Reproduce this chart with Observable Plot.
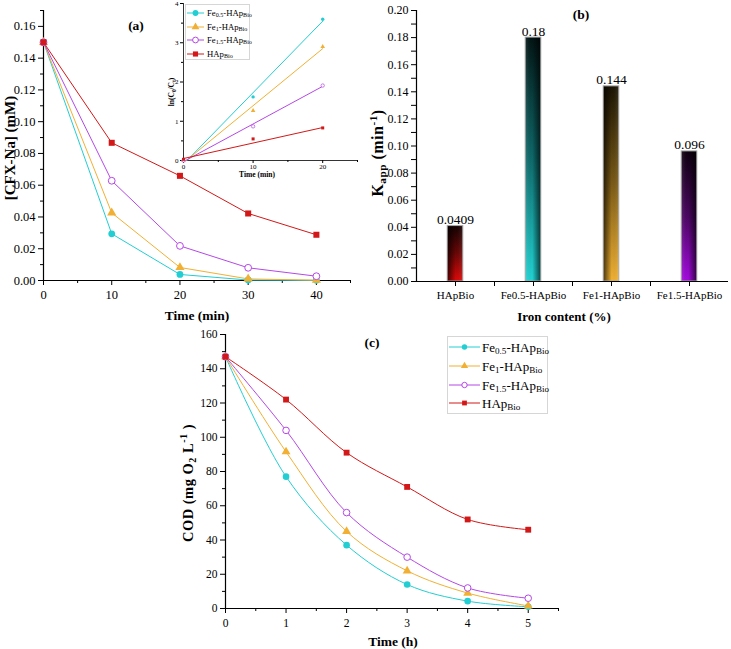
<!DOCTYPE html>
<html><head><meta charset="utf-8">
<script src="https://cdn.jsdelivr.net/npm/d3@7"></script>
<script src="https://cdn.jsdelivr.net/npm/@observablehq/plot@0.6"></script>
<style>
body{margin:0;background:#fff;}
#fig{position:relative;width:731px;height:649px;font-family:"Liberation Serif","Times New Roman",serif;color:#000;overflow:hidden;background:#fff;}
#fig svg, #fig svg g, #fig svg text{font-family:"Liberation Serif","Times New Roman",serif !important;}
.lbl{position:absolute;white-space:nowrap;line-height:1;}
.legend{position:absolute;border:1px solid #d6d6d6;background:#fff;box-sizing:border-box;}
.legend .txt{position:absolute;white-space:nowrap;line-height:1;transform:translateY(-50%);}
sub{font-size:70%;vertical-align:-0.3em;line-height:0;}
sup{font-size:70%;vertical-align:0.55em;line-height:0;}
</style></head>
<body><div id="fig"></div>
<script>
// ---------- data ----------
const seriesNames = ["Fe0.5-HApBio","Fe1-HApBio","Fe1.5-HApBio","HApBio"];
const seriesHtml = ["Fe<sub>0.5</sub>-HAp<sub>Bio</sub>","Fe<sub>1</sub>-HAp<sub>Bio</sub>","Fe<sub>1.5</sub>-HAp<sub>Bio</sub>","HAp<sub>Bio</sub>"];

// (a) CFX-Na concentration vs time
const timeMin = [0,10,20,30,40];
const cfxFe05 = [0.150,0.0294,0.0038,0.0003,0.0001];
const cfxFe1  = [0.150,0.0426,0.0082,0.0010,0.0002];
const cfxFe15 = [0.150,0.0628,0.0218,0.0080,0.0027];
const cfxHAp  = [0.150,0.0867,0.0659,0.0422,0.0288];

// (a) inset: ln(C0/Ct) vs time, with fitted lines
const insetTime = [0,10,20];
const lnFe05 = [0.00,1.62,3.60];
const lnFe1  = [0.00,1.27,2.90];
const lnFe15 = [0.00,0.87,1.91];
const lnHAp  = [0.03,0.55,0.83];
const fitX0 = [0.5,0.4,0.3,0];
const fitY0 = [0,0,0,0.05];
const fitX1 = [20,20,20,20];
const fitY1 = [3.55,2.85,1.89,0.84];

// (b) apparent rate constants
const kCategories = ["HApBio","Fe0.5-HApBio","Fe1-HApBio","Fe1.5-HApBio"];
const kValues = [0.0409,0.18,0.144,0.096];

// (c) COD vs time
const timeH = [0,1,2,3,4,5];
const codFe05 = [147,77,37,14,4.3,1];
const codFe1  = [147,91.5,45,22,9,1.5];
const codFe15 = [147,104,56,30,12,6];
const codHAp  = [147,122,91,71,52,46];

// tick values
const xTicksA = [0,10,20,30,40], xMinorA = [5,15,25,35,45];
const yTicksA = [0,0.02,0.04,0.06,0.08,0.10,0.12,0.14,0.16], yMinorA = [0.01,0.03,0.05,0.07,0.09,0.11,0.13,0.15,0.17];
const xTicksI = [0,10,20], xMinorI = [5,15,25];
const yTicksI = [0,1,2,3,4], yMinorI = [0.5,1.5,2.5,3.5];
const yTicksB = [0,0.02,0.04,0.06,0.08,0.10,0.12,0.14,0.16,0.18,0.20], yMinorB = [0.01,0.03,0.05,0.07,0.09,0.11,0.13,0.15,0.17,0.19];
const xTicksC = [0,1,2,3,4,5], xMinorC = [0.5,1.5,2.5,3.5,4.5,5.5];
const yTicksC = [0,20,40,60,80,100,120,140,160], yMinorC = [10,30,50,70,90,110,130,150];

// ---------- styles ----------
const colors = ["#22ced2","#f1b033","#b548e6","#d21818"];
const symbols = ["circle","triangle","circle","square"];
const hollow = [false,false,true,false];
const barStyle = [
  {top:"#140202", mid:"#6a0606", bottom:"#e00808", darkLeft:true},
  {top:"#031414", mid:"#0e6a6b", bottom:"#22d4d4", darkLeft:false},
  {top:"#1a1404", mid:"#7a5a16", bottom:"#f2b232", darkLeft:true},
  {top:"#0e000f", mid:"#4a0660", bottom:"#a40ae0", darkLeft:false}
];

const fig = document.getElementById("fig");
const FONT = '"Liberation Serif","Times New Roman",serif';

function rowsOf(xs, ysList){
  const r=[]; ysList.forEach((ys,i)=>xs.forEach((x,j)=>r.push({s:i,x,y:ys[j]}))); return r;
}
function seriesMarks(rows, r, curve, sw){
  const m=[];
  seriesNames.forEach((n,i)=>m.push(Plot.line(rows.filter(d=>d.s===i),{x:"x",y:"y",stroke:colors[i],strokeWidth:sw,curve})));
  seriesNames.forEach((n,i)=>m.push(Plot.dot(rows.filter(d=>d.s===i),{x:"x",y:"y",symbol:symbols[i],r,
    fill:hollow[i]?"white":colors[i],stroke:colors[i],strokeWidth:hollow[i]?1:0})));
  return m;
}
function axes(o){
  return [
    Plot.axisX({ticks:o.xt,tickSize:o.tsz||5,tickPadding:o.xpad??4,tickFormat:o.xfmt,fontSize:o.xfs||o.fs,fontFamily:FONT,label:null}),
    Plot.axisX({ticks:o.xm,tickSize:o.msz||3,tickFormat:()=>"",label:null}),
    Plot.axisY({ticks:o.yt,tickSize:o.tsz||5,tickPadding:o.ypad??3,tickFormat:o.yfmt,fontSize:o.fs,fontFamily:FONT,label:null}),
    Plot.axisY({ticks:o.ym,tickSize:o.msz||3,tickFormat:()=>"",label:null}),
    Plot.ruleX([o.x0],{stroke:"black",strokeWidth:o.aw||1.2}),
    Plot.ruleY([0],{stroke:"black",strokeWidth:o.aw||1.2})
  ];
}
function st(fs){ return {"font-family":FONT,"font-size":fs+"px","color":"black","background":"transparent"}; }
function put(svg,left,top){
  svg.style.position="absolute"; svg.style.left=left+"px"; svg.style.top=top+"px";
  svg.style.background="transparent"; svg.style.maxWidth="none"; svg.style.overflow="visible";
  svg.style.fontFamily=FONT;
  d3.select(svg).selectAll("text").style("font-family",FONT);
  fig.appendChild(svg); return svg;
}
function label(html,x,y,size,opts={}){
  const d=document.createElement("div"); d.className="lbl"; d.innerHTML=html;
  d.style.left=x+"px"; d.style.top=y+"px"; d.style.fontSize=size+"px";
  d.style.fontWeight=opts.bold===false?"normal":"bold";
  if(opts.ls) d.style.letterSpacing=opts.ls+"px";
  d.style.transform="translate(-50%,-50%)"+(opts.rot?" rotate(-90deg)":"");
  fig.appendChild(d); return d;
}
function legend(left,top,w,h,rowYs,lineLen,mr,fs,textX){
  const box=document.createElement("div"); box.className="legend";
  Object.assign(box.style,{left:left+"px",top:top+"px",width:w+"px",height:h+"px"});
  seriesNames.forEach((n,i)=>{
    const s=d3.create("svg").attr("width",lineLen).attr("height",16)
      .style("position","absolute").style("left","1px").style("top",(rowYs[i]-8)+"px");
    s.append("line").attr("x1",0).attr("x2",lineLen).attr("y1",8).attr("y2",8).attr("stroke",colors[i]).attr("stroke-width",1);
    const sym = {circle:d3.symbolCircle,triangle:d3.symbolTriangle,square:d3.symbolSquare}[symbols[i]];
    s.append("path").attr("d",d3.symbol(sym,mr*mr*Math.PI)()).attr("transform",`translate(${lineLen/2},8)`)
      .attr("fill",hollow[i]?"white":colors[i]).attr("stroke",hollow[i]?colors[i]:"none");
    box.appendChild(s.node());
    const t=document.createElement("div"); t.className="txt"; t.innerHTML=seriesHtml[i];
    t.style.left=textX+"px"; t.style.top=rowYs[i]+"px"; t.style.fontSize=fs+"px";
    box.appendChild(t);
  });
  fig.appendChild(box);
}

// ---------- (a) ----------
const rowsA = rowsOf(timeMin,[cfxFe05,cfxFe1,cfxFe15,cfxHAp]);
put(Plot.plot({
  width:360,height:330,marginLeft:43,marginRight:10,marginTop:10,marginBottom:50,
  style:st(12.5),
  x:{domain:[0,45]}, y:{domain:[0,0.17]},
  marks:[
    ...axes({xt:xTicksA,xm:xMinorA,yt:yTicksA,ym:yMinorA,fs:12.5,xfmt:d=>String(d),yfmt:d3.format(".2f"),x0:0,xpad:5}),
    ...seriesMarks(rowsA,3.4,"linear",1)
  ]
}),0,0);

// ---------- inset ----------
const rowsI = rowsOf(insetTime,[lnFe05,lnFe1,lnFe15,lnHAp]);
const fitRows = [];
seriesNames.forEach((n,i)=>{fitRows.push({s:i,x:fitX0[i],y:fitY0[i]});fitRows.push({s:i,x:fitX1[i],y:fitY1[i]});});
put(Plot.plot({
  width:200,height:180,marginLeft:23,marginRight:3,marginTop:3,marginBottom:20,
  style:st(7),
  x:{domain:[0,25]}, y:{domain:[0,4]},
  marks:[
    ...axes({xt:xTicksI,xm:xMinorI,yt:yTicksI,ym:yMinorI,fs:7,xfmt:d=>String(d),yfmt:d=>String(d),x0:0,tsz:3,msz:2,xpad:1,ypad:2,aw:0.8}),
    ...seriesNames.map((n,i)=>Plot.line(fitRows.filter(d=>d.s===i),{x:"x",y:"y",stroke:colors[i],strokeWidth:1})),
    ...seriesNames.map((n,i)=>Plot.dot(rowsI.filter(d=>d.s===i),{x:"x",y:"y",symbol:symbols[i],r:1.7,
      fill:hollow[i]?"white":colors[i],stroke:colors[i],strokeWidth:hollow[i]?0.7:0}))
  ]
}),160,0);
legend(185,4,65,56,[8,21.5,35,48.5],17,2.9,8.7,21);

// ---------- (b) ----------
const rowsB = kCategories.map((c,i)=>({i:i+1,c,k:kValues[i]}));
const svgB = Plot.plot({
  width:371,height:330,marginLeft:56,marginRight:3,marginTop:10,marginBottom:49,
  style:st(12),
  x:{domain:[0.5,4.5]}, y:{domain:[0,0.2]},
  marks:[
    ...rowsB.map((d,j)=>Plot.rectY([d],{x1:r=>r.i-0.1,x2:r=>r.i+0.1,y:"k",fill:`url(#bv${j})`})),
    ...rowsB.map((d,j)=>Plot.rectY([d],{x1:r=>r.i-0.1,x2:r=>r.i+0.1,y:"k",fill:`url(#bh${j})`,stroke:"#a8a8a8",strokeWidth:1})),
    Plot.text(rowsB,{x:"i",y:"k",text:d=>String(d.k),dy:-2,lineAnchor:"bottom",fontSize:13.5,fontFamily:FONT}),
    ...axes({xt:[1,2,3,4],xm:[1.5,2.5,3.5],yt:yTicksB,ym:yMinorB,fs:12,xfs:11,xfmt:d=>kCategories[d-1],yfmt:d3.format(".2f"),x0:0.5,msz:5,xpad:5})
  ]
});
const defs = d3.select(svgB).insert("defs",":first-child");
barStyle.forEach((s,j)=>{
  const g=defs.append("linearGradient").attr("id","bv"+j).attr("x1",0).attr("y1",0).attr("x2",0).attr("y2",1);
  g.append("stop").attr("offset","0%").attr("stop-color",s.top);
  g.append("stop").attr("offset","50%").attr("stop-color",s.mid);
  g.append("stop").attr("offset","100%").attr("stop-color",s.bottom);
  const h=defs.append("linearGradient").attr("id","bh"+j).attr("y1",0).attr("y2",0)
    .attr("x1",s.darkLeft?0:1).attr("x2",s.darkLeft?1:0);
  h.append("stop").attr("offset","0%").attr("stop-color","#000").attr("stop-opacity",0.7);
  h.append("stop").attr("offset","55%").attr("stop-color","#000").attr("stop-opacity",0);
  h.append("stop").attr("offset","100%").attr("stop-color","#fff").attr("stop-opacity",0.12);
});
put(svgB,360,0);

// ---------- (c) ----------
const rowsC = rowsOf(timeH,[codFe05,codFe1,codFe15,codHAp]);
put(Plot.plot({
  width:400,height:329,marginLeft:45,marginRight:22,marginTop:14,marginBottom:41,
  style:st(11.5),
  x:{domain:[0,5.5]}, y:{domain:[0,160]},
  marks:[
    ...axes({xt:xTicksC,xm:xMinorC,yt:yTicksC,ym:yMinorC,fs:11.5,xfmt:d=>String(d),yfmt:d=>String(d),x0:0,xpad:5}),
    ...seriesMarks(rowsC,3.3,"catmull-rom",1)
  ]
}),180,320);
legend(447,336,101,78,[9.7,29,47.5,66],31,2.7,13,34);

// ---------- text labels ----------
label("[CFX-Na] (mM)",9.5,148,15,{rot:true});
label("Time (min)",197,316,13.5);
label("(a)",136,26,13.5);
label("ln(C<sub>0</sub>/C<sub>t</sub>)",171.5,92,7.5,{rot:true});
label("Time (min)",257,175,7.5);
label("K<sub>app</sub> (min<sup>-1</sup>)",378,153,16,{rot:true,ls:0.5});
label("Iron content (%)",564,316,13);
label("(b)",581,15,13.5);
label("COD (mg O<sub>2</sub> L<sup>-1</sup> )",188,483,14.5,{rot:true,ls:0.5});
label("Time (h)",393,642,13.5);
label("(c)",372,343,13.5);
</script></body></html>
